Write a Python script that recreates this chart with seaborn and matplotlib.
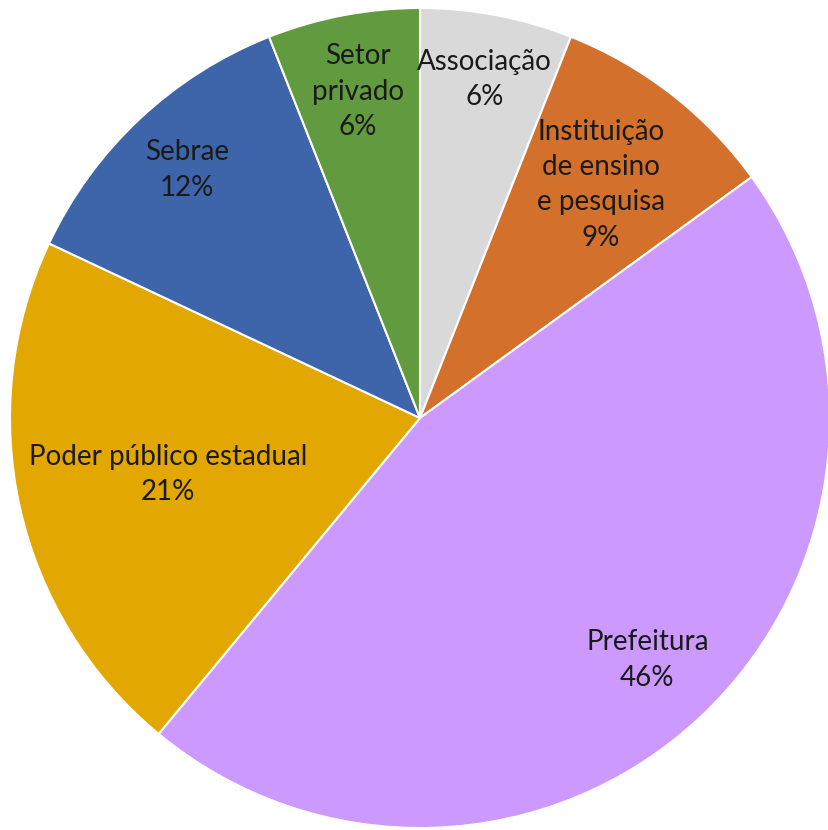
import numpy as np
import matplotlib
matplotlib.use("Agg")
import matplotlib.pyplot as plt
import seaborn as sns

categories = ["Associação", "Instituição\nde ensino\ne pesquisa", "Prefeitura",
              "Poder público estadual", "Sebrae", "Setor\nprivado"]
values = [6, 9, 46, 21, 12, 6]
colors = ["#D9D9D9", "#D2702C", "#CC99FF", "#E2A700", "#3E64AA", "#629A3F"]
label_radius = [0.84, 0.72, 0.81, 0.63, 0.83, 0.81]

sns.set_style("white")
plt.rcParams['font.family'] = ['Lato', 'DejaVu Sans']

fig = plt.figure(figsize=(8.29, 8.30), dpi=100)
ax = fig.add_axes([0, 0, 1, 1])
wedges, _ = ax.pie(values, colors=colors, startangle=90, counterclock=False,
                   radius=1.0, wedgeprops=dict(edgecolor="white", linewidth=1.5))

for w, cat, v, r in zip(wedges, categories, values, label_radius):
    mid = np.deg2rad((w.theta1 + w.theta2) / 2)
    x, y = r * np.cos(mid), r * np.sin(mid)
    ax.text(x, y, f"{cat}\n{v}%", ha="center", va="center", fontsize=20,
            color="#1a1a1a", linespacing=1.45)

px = 410.0
ax.set_xlim(-420 / px, (829 - 420) / px)
ax.set_ylim(-(830 - 418) / px, 418 / px)
ax.set_aspect("auto")
ax.axis("off")
fig.savefig("out.png", dpi=100)
